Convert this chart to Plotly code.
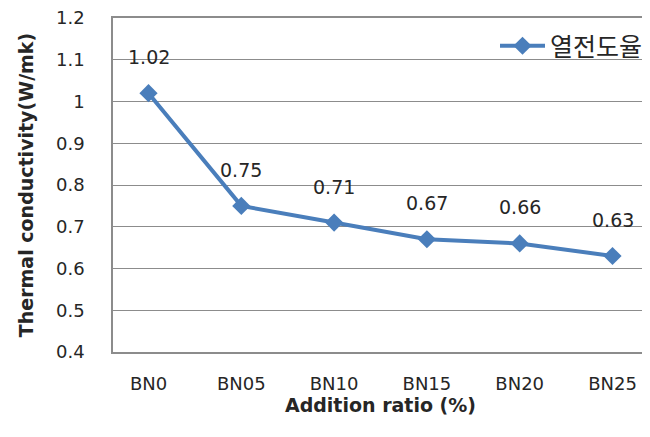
import plotly.graph_objects as go

categories = ["BN0", "BN05", "BN10", "BN15", "BN20", "BN25"]
values = [1.02, 0.75, 0.71, 0.67, 0.66, 0.63]
labels = ["1.02", "0.75", "0.71", "0.67", "0.66", "0.63"]
series_name = "열전도율"
y_ticks = [0.4, 0.5, 0.6, 0.7, 0.8, 0.9, 1.0, 1.1, 1.2]
y_tick_text = ["0.4", "0.5", "0.6", "0.7", "0.8", "0.9", "1", "1.1", "1.2"]

color = "#4A7EBB"
grid = "#8C8C8C"
txt = "#262626"
font_main = "DejaVu Sans, Verdana, Noto Sans CJK KR"

fig = go.Figure()
fig.add_trace(go.Scatter(
    x=categories, y=values, mode="lines+markers", name=series_name,
    line=dict(color=color, width=4),
    marker=dict(symbol="diamond", size=14, color=color),
))

for c, v, t in zip(categories, values, labels):
    fig.add_annotation(x=c, y=v, text=t, showarrow=False, yshift=36,
                       font=dict(size=19, color=txt, family=font_main))

fig.update_layout(
    width=642, height=429,
    margin=dict(l=105, r=2, t=10, b=85),
    paper_bgcolor="white", plot_bgcolor="white",
    font=dict(family=font_main, color=txt),
    showlegend=True,
    legend=dict(x=1.0, y=0.985, xanchor="right", yanchor="top",
                bgcolor="rgba(0,0,0,0)", itemwidth=45,
                font=dict(size=25, family="Noto Sans CJK KR", color=txt)),
    xaxis=dict(
        showgrid=False, showline=True, linecolor=grid, linewidth=1.5,
        mirror=True, ticks="", tickfont=dict(size=18, color=txt),
        ticklabelstandoff=15, automargin=False, ticklabeloverflow="allow",
        title=dict(text="<b>Addition ratio (%)</b>", font=dict(size=19), standoff=4),
    ),
    yaxis=dict(
        range=[0.4, 1.2],
        showgrid=True, gridcolor=grid, gridwidth=1.2,
        showline=True, linecolor=grid, linewidth=1.5, mirror=True,
        ticks="", tickfont=dict(size=18, color=txt),
        tickvals=y_ticks, ticktext=y_tick_text,
        ticklabelstandoff=23, automargin=False, ticklabeloverflow="allow",
        title=dict(text="<b>Thermal conductivity(W/mk)</b>", font=dict(size=19), standoff=17),
        zeroline=False,
    ),
)

fig.write_html("out.html")
